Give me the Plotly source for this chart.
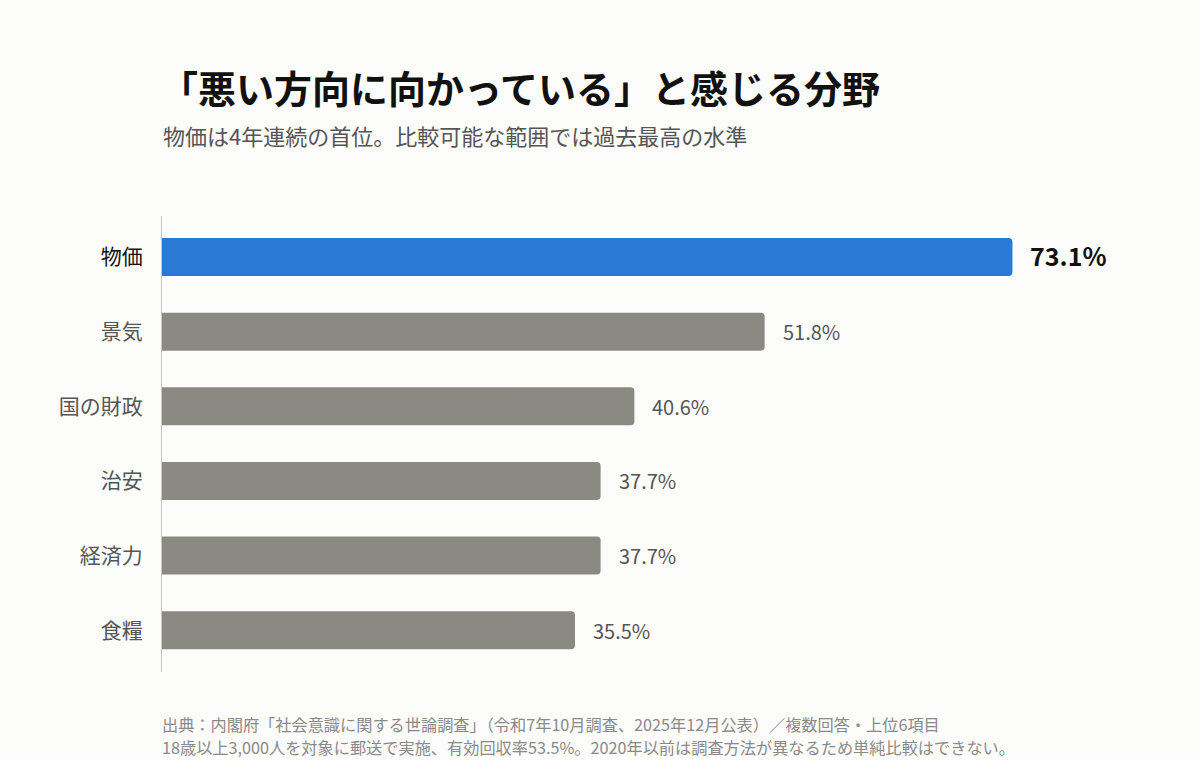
import plotly.graph_objects as go

# 「悪い方向に向かっている」と感じる分野（複数回答・上位6項目）
categories = ["物価", "景気", "国の財政", "治安", "経済力", "食糧"]
values = [73.1, 51.8, 40.6, 37.7, 37.7, 35.5]
value_labels = ["73.1%", "51.8%", "40.6%", "37.7%", "37.7%", "35.5%"]

title = "「悪い方向に向かっている」と感じる分野"
subtitle = "物価は4年連続の首位。比較可能な範囲では過去最高の水準"
source_1 = "出典：内閣府「社会意識に関する世論調査」（令和7年10月調査、2025年12月公表）／複数回答・上位6項目"
source_2 = "18歳以上3,000人を対象に郵送で実施、有効回収率53.5%。2020年以前は調査方法が異なるため単純比較はできない。"

FONT = "Noto Sans CJK JP"
BLUE = "#2979d5"
GRAY = "#8b8a82"
TEXT_GRAY = "#555555"

bar_colors = [BLUE if i == 0 else GRAY for i in range(len(categories))]
tick_text = [
    f"<span style='color:#111111'>{c}</span>" if i == 0 else c
    for i, c in enumerate(categories)
]

fig = go.Figure(go.Bar(
    x=values,
    y=categories,
    orientation="h",
    width=0.51,
    marker=dict(color=bar_colors, line=dict(width=0)),
    hoverinfo="skip",
))

annotations = []
for i, (c, v, lab) in enumerate(zip(categories, values, value_labels)):
    top = i == 0
    annotations.append(dict(
        x=v, y=c, xref="x", yref="y",
        text=f"<b>{lab}</b>" if top else lab,
        showarrow=False, xanchor="left", yanchor="middle", xshift=16,
        yshift=2 if top else 0,
        font=dict(family=FONT, size=25 if top else 20,
                  color="#111111" if top else TEXT_GRAY),
    ))

annotations += [
    dict(x=-0.004, y=1.285, xref="paper", yref="paper", text=f"<b>{title}</b>",
         showarrow=False, xanchor="left", yanchor="middle",
         font=dict(family=FONT, size=38, color="#111111")),
    dict(x=-0.001, y=1.178, xref="paper", yref="paper", text=subtitle,
         showarrow=False, xanchor="left", yanchor="middle",
         font=dict(family=FONT, size=22, color=TEXT_GRAY)),
    dict(x=-0.002, y=-0.114, xref="paper", yref="paper", text=source_1,
         showarrow=False, xanchor="left", yanchor="middle",
         font=dict(family=FONT, size=16.2, color="#8a8a8a")),
    dict(x=-0.002, y=-0.164, xref="paper", yref="paper", text=source_2,
         showarrow=False, xanchor="left", yanchor="middle",
         font=dict(family=FONT, size=16.2, color="#8a8a8a")),
]

fig.update_layout(
    width=1200, height=760,
    margin=dict(l=162, r=84, t=216, b=88),
    paper_bgcolor="#fcfcfa", plot_bgcolor="#fcfcfa",
    font=dict(family=FONT, color=TEXT_GRAY),
    showlegend=False,
    barcornerradius=4,
    annotations=annotations,
    xaxis=dict(range=[0, 82], showgrid=False, zeroline=False,
               showticklabels=False, fixedrange=True),
    yaxis=dict(
        type="category",
        range=[5.56, -0.55],
        tickmode="array", tickvals=categories, ticktext=tick_text,
        tickfont=dict(family=FONT, size=21, color=TEXT_GRAY),
        showgrid=False, zeroline=False,
        showline=True, linecolor="#c9c7bf", linewidth=1,
        ticks="", ticklabelstandoff=14,
    ),
)

# drop the default 8px body margin so the figure fills the window
fig.write_html("out.html", config={"displayModeBar": False},
               post_script="document.body.style.margin = '0';")
